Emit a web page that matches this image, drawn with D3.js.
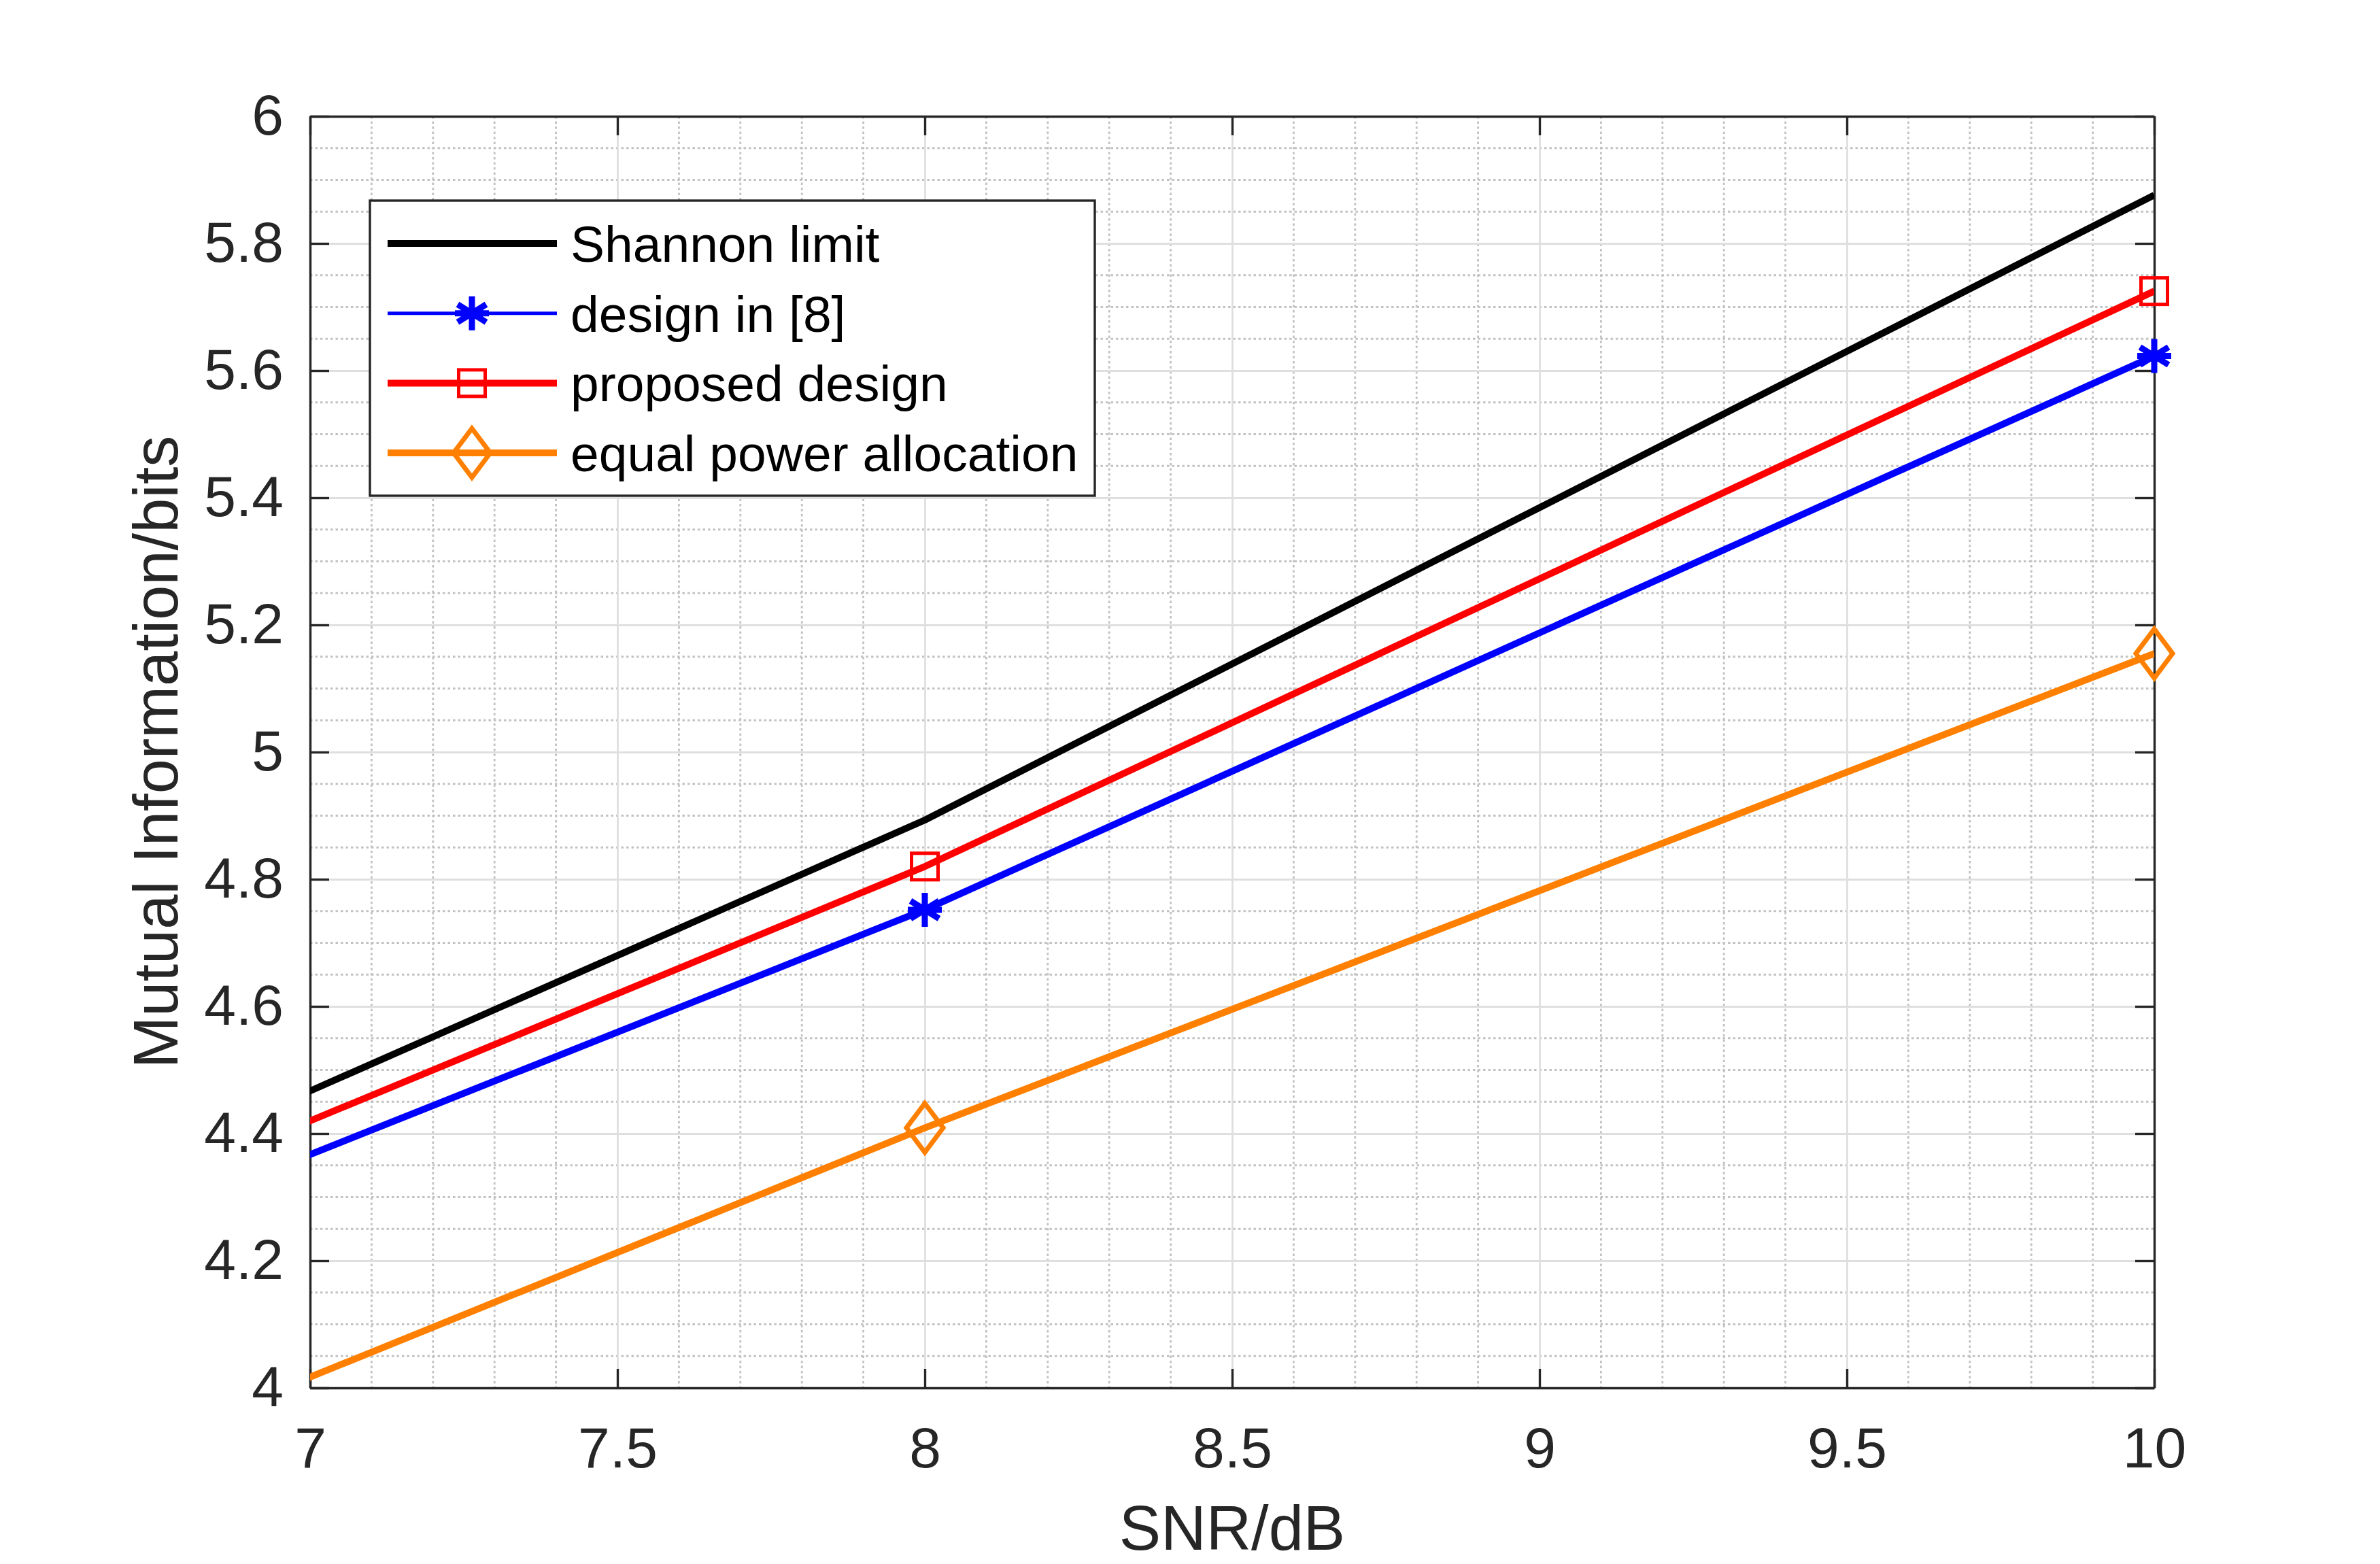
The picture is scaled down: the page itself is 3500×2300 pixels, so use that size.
<!DOCTYPE html>
<html>
<head>
<meta charset="utf-8">
<script src="https://cdn.jsdelivr.net/npm/d3@7"></script>
<style>
  body { margin: 0; background: #fff; }
  svg text { font-family: "Liberation Sans", Arial, sans-serif; }
</style>
</head>
<body>
<div id="graph"></div>
<script>
// values (x = 6 lies left of the visible range, lines are clipped at 7)
const snr = [6, 8, 10];
const shannon = [4.041, 4.893, 5.876];
const design8 = [3.982, 4.752, 5.623];
const proposed = [4.02, 4.82, 5.725];
const equalPower = [3.625, 4.409, 5.155];
const seriesNames = ['Shannon limit', 'design in [8]', 'proposed design', 'equal power allocation'];
const xTicks = [7, 7.5, 8, 8.5, 9, 9.5, 10];
const yTicks = [4, 4.2, 4.4, 4.6, 4.8, 5, 5.2, 5.4, 5.6, 5.8, 6];

const w = 3500, h = 2300;
const margin = {top: 171, right: 332, bottom: 259, left: 456};
const iw = w - margin.left - margin.right;
const ih = h - margin.top - margin.bottom;
const axisColor = '#262626';

const series = [
  {name: seriesNames[0], values: shannon,    color: '#000000', width: 10, legendWidth: 10, marker: null},
  {name: seriesNames[1], values: design8,    color: '#0000ff', width: 10, legendWidth: 5,  marker: 'star'},
  {name: seriesNames[2], values: proposed,   color: '#ff0000', width: 10, legendWidth: 10, marker: 'square'},
  {name: seriesNames[3], values: equalPower, color: '#ff8000', width: 10, legendWidth: 10, marker: 'diamond'}
];

const xScale = d3.scaleLinear().domain([7, 10]).range([0, iw]);
const yScale = d3.scaleLinear().domain([4, 6]).range([ih, 0]);

const svg = d3.select('#graph')
  .append('svg')
  .attr('width', w)
  .attr('height', h);

svg.append('rect').attr('width', w).attr('height', h).style('fill', '#fff');

const g = svg.append('g').attr('transform', `translate(${margin.left},${margin.top})`);

g.append('clipPath').attr('id', 'plot-clip')
  .append('rect').attr('width', iw).attr('height', ih);

// minor grid (dotted)
const xMinor = d3.range(70, 101).map(d => d / 10).filter(d => !xTicks.includes(d));
const yMinor = d3.range(80, 121, 1).map(d => d / 20).filter(d => !yTicks.includes(d));

g.append('g').selectAll('line')
  .data(xMinor).enter().append('line')
  .attr('x1', d => xScale(d)).attr('x2', d => xScale(d))
  .attr('y1', 0).attr('y2', ih)
  .style('stroke', '#c2c2c2').style('stroke-width', 2.8)
  .style('stroke-dasharray', '3.5,4');

g.append('g').selectAll('line')
  .data(yMinor).enter().append('line')
  .attr('x1', 0).attr('x2', iw)
  .attr('y1', d => yScale(d)).attr('y2', d => yScale(d))
  .style('stroke', '#c2c2c2').style('stroke-width', 2.8)
  .style('stroke-dasharray', '3.5,4');

// major grid (solid light)
g.append('g')
  .attr('transform', `translate(0,${ih})`)
  .call(d3.axisBottom(xScale).tickValues(xTicks).tickSize(-ih).tickFormat(''))
  .call(s => s.select('.domain').remove())
  .call(s => s.selectAll('line').style('stroke', '#dfdfdf').style('stroke-width', 2.8));

g.append('g')
  .call(d3.axisLeft(yScale).tickValues(yTicks).tickSize(-iw).tickFormat(''))
  .call(s => s.select('.domain').remove())
  .call(s => s.selectAll('line').style('stroke', '#dfdfdf').style('stroke-width', 2.8));

// axes with inward ticks on all four sides
function styleAxis(s) {
  s.select('.domain').style('stroke', axisColor).style('stroke-width', 3.4);
  s.selectAll('.tick line').style('stroke', axisColor).style('stroke-width', 3.4);
  s.selectAll('.tick text').style('fill', axisColor).style('font-size', '84px');
}

g.append('g').attr('id', 'x-axis')
  .attr('transform', `translate(0,${ih})`)
  .call(d3.axisBottom(xScale).tickValues(xTicks).tickSizeInner(-28).tickSizeOuter(0).tickPadding(57).tickFormat(d3.format('')))
  .call(styleAxis);

g.append('g').attr('id', 'y-axis')
  .call(d3.axisLeft(yScale).tickValues(yTicks).tickSizeInner(-28).tickSizeOuter(0).tickPadding(39).tickFormat(d3.format('')))
  .call(styleAxis);

g.append('g')
  .call(d3.axisTop(xScale).tickValues(xTicks).tickSizeInner(-28).tickSizeOuter(0).tickFormat(''))
  .call(styleAxis);

g.append('g')
  .attr('transform', `translate(${iw},0)`)
  .call(d3.axisRight(yScale).tickValues(yTicks).tickSizeInner(-28).tickSizeOuter(0).tickFormat(''))
  .call(styleAxis);

// lines
const line = d3.line().x(d => xScale(d[0])).y(d => yScale(d[1]));

g.append('g').attr('clip-path', 'url(#plot-clip)')
  .selectAll('path')
  .data(series).enter().append('path')
  .attr('d', s => line(snr.map((x, i) => [x, s.values[i]])))
  .style('fill', 'none')
  .style('stroke', s => s.color)
  .style('stroke-width', s => s.width)
  .style('stroke-linejoin', 'round');

// marker shapes
function drawMarker(sel, type, color) {
  if (type === 'square') {
    sel.append('rect').attr('x', -19.5).attr('y', -19.5).attr('width', 39).attr('height', 39)
      .style('fill', 'none').style('stroke', color).style('stroke-width', 5);
  } else if (type === 'diamond') {
    sel.append('path').attr('d', 'M0,-36L27,0L0,36L-27,0Z')
      .style('fill', 'none').style('stroke', color).style('stroke-width', 7).style('stroke-linejoin', 'miter');
  } else if (type === 'star') {
    const r = 25, rd = 21;
    sel.append('path')
      .attr('d', `M0,${-r}L0,${r}M${-r},0L${r},0M${-rd},${-rd * 0.62}L${rd},${rd * 0.62}M${-rd},${rd * 0.62}L${rd},${-rd * 0.62}`)
      .style('stroke', color).style('stroke-width', 9);
  }
}

series.filter(s => s.marker).forEach(s => {
  snr.forEach((x, i) => {
    if (x < 7 || x > 10) return;
    const m = g.append('g').attr('transform', `translate(${xScale(x)},${yScale(s.values[i])})`);
    drawMarker(m, s.marker, s.color);
  });
});

// axis labels
svg.append('text')
  .attr('x', margin.left + iw / 2)
  .attr('y', 2279)
  .attr('text-anchor', 'middle')
  .style('font-size', '92px')
  .style('fill', axisColor)
  .text('SNR/dB');

svg.append('text')
  .attr('transform', `translate(261,${margin.top + ih / 2}) rotate(-90)`)
  .attr('text-anchor', 'middle')
  .style('font-size', '92px')
  .style('fill', axisColor)
  .text('Mutual Information/bits');

// legend
const legend = svg.append('g').attr('id', 'legend').attr('transform', 'translate(544,295)');
legend.append('rect')
  .attr('width', 1066).attr('height', 434)
  .style('fill', '#fff').style('stroke', axisColor).style('stroke-width', 3.4);

const entry = legend.selectAll('.legend-entry')
  .data(series).enter().append('g')
  .attr('class', 'legend-entry')
  .attr('transform', (d, i) => `translate(0,${63 + i * 102.7})`);

entry.append('line')
  .attr('x1', 26).attr('x2', 275)
  .style('stroke', d => d.color)
  .style('stroke-width', d => d.legendWidth);

entry.each(function (d) {
  if (d.marker) drawMarker(d3.select(this).append('g').attr('transform', 'translate(150,0)'), d.marker, d.color);
});

entry.append('text')
  .attr('x', 295)
  .attr('y', 27)
  .style('font-size', '75px')
  .style('fill', '#000')
  .text(d => d.name);
</script>
</body>
</html>
